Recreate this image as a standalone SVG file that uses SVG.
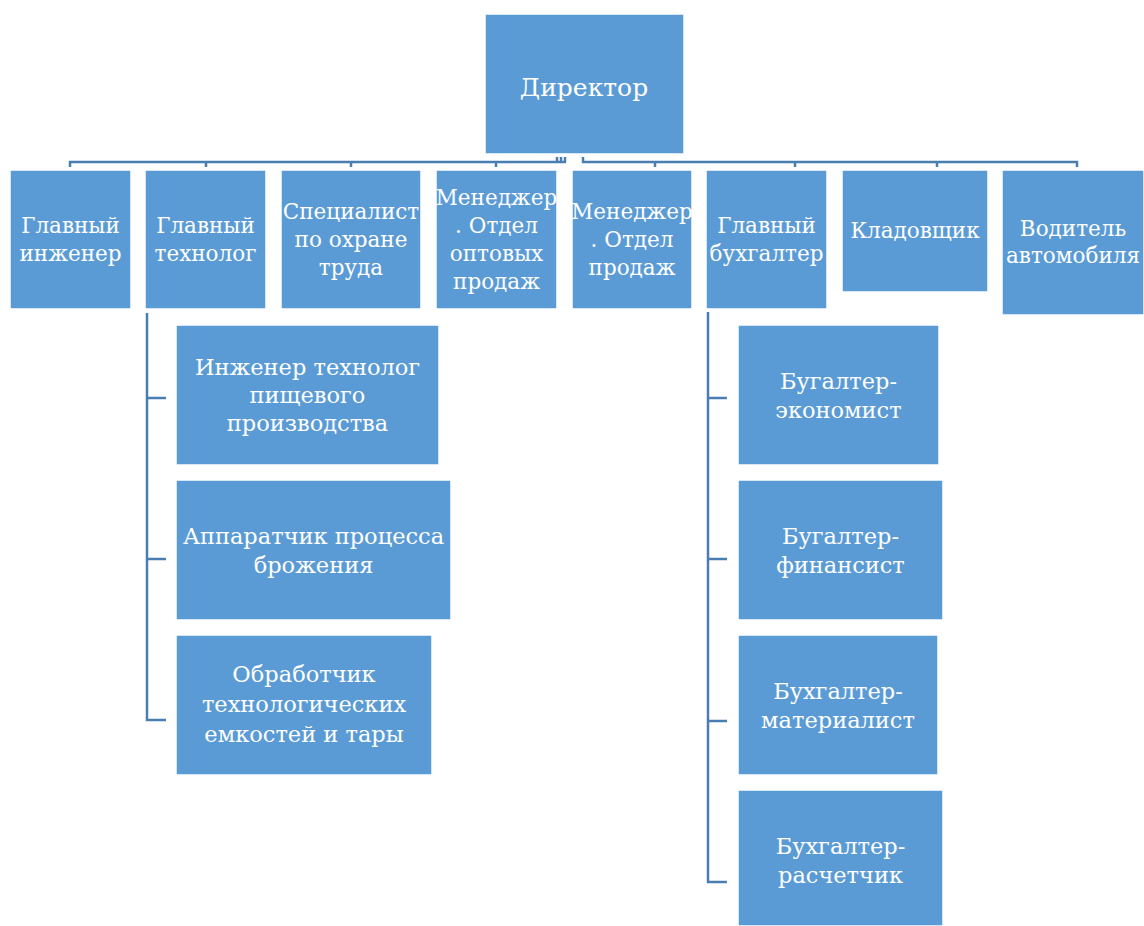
<svg xmlns="http://www.w3.org/2000/svg" width="1144" height="926" viewBox="0 0 1144 926">
<style>
.b{fill:#5B9BD5;stroke:#ffffff;stroke-width:1.5}
text{font-family:'DejaVu Serif','Liberation Serif',serif;fill:#ffffff;text-anchor:middle}
.s{font-size:21.5px}
.m{font-size:22.5px}
.c{fill:none;stroke:#4A7EB0;stroke-width:2.5}
</style>
<rect width="1144" height="926" fill="#ffffff"/>
<g id="connectors">
<path class="c" d="M70,167 V162 H566 M557,162 V157 M561,162 V157 M565,162 V157 M206,162 V167 M351,162 V167 M496,162 V167"/>
<path class="c" d="M583,157 V162 H1077 V167 M655,162 V167 M795,162 V167 M937,162 V167"/>
<path class="c" d="M166,398 H147 V313 M147,398 V720 H166 M147,559 H166"/>
<path class="c" d="M727,398 H708 V312 M708,398 V882 H727 M708,559 H727 M708,721 H727"/>
</g>
<g id="director"><rect class="b" x="485" y="14" width="199" height="140"/><text x="584" y="96" font-size="25">Директор</text></g>
<g id="n1"><rect class="b" x="10" y="170" width="121" height="139"/><text class="s" x="70.5" y="233">Главный<tspan x="70.5" dy="28">инженер</tspan></text></g>
<g id="n2"><rect class="b" x="145" y="170" width="121" height="139"/><text class="s" x="205.5" y="233">Главный<tspan x="205.5" dy="28">технолог</tspan></text></g>
<g id="n3"><rect class="b" x="281" y="170" width="140" height="139"/><text class="s" x="351" y="219">Специалист<tspan x="351" dy="28">по охране</tspan><tspan x="351" dy="28">труда</tspan></text></g>
<g id="n4"><rect class="b" x="436" y="170" width="121" height="139"/><text class="s" x="496.5" y="205">Менеджер<tspan x="496.5" dy="28">. Отдел</tspan><tspan x="496.5" dy="28">оптовых</tspan><tspan x="496.5" dy="28">продаж</tspan></text></g>
<g id="n5"><rect class="b" x="572" y="170" width="120" height="139"/><text class="s" x="632" y="219">Менеджер<tspan x="632" dy="28">. Отдел</tspan><tspan x="632" dy="28">продаж</tspan></text></g>
<g id="n6"><rect class="b" x="706" y="170" width="121" height="139"/><text class="s" x="766.5" y="233">Главный<tspan x="766.5" dy="28">бухгалтер</tspan></text></g>
<g id="n7"><rect class="b" x="842" y="170" width="146" height="122"/><text class="s" x="915" y="238">Кладовщик</text></g>
<g id="n8"><rect class="b" x="1002" y="170" width="142" height="145"/><text class="s" x="1073" y="236">Водитель<tspan x="1073" dy="27">автомобиля</tspan></text></g>
<g id="l1"><rect class="b" x="176" y="325" width="263" height="140"/><text class="m" x="307.5" y="375">Инженер технолог<tspan x="307.5" dy="28">пищевого</tspan><tspan x="307.5" dy="28">производства</tspan></text></g>
<g id="l2"><rect class="b" x="176" y="480" width="275" height="140"/><text class="m" x="313.5" y="544">Аппаратчик процесса<tspan x="313.5" dy="29">брожения</tspan></text></g>
<g id="l3"><rect class="b" x="176" y="635" width="256" height="140"/><text class="m" x="304" y="682">Обработчик<tspan x="304" dy="30">технологических</tspan><tspan x="304" dy="30">емкостей и тары</tspan></text></g>
<g id="r1"><rect class="b" x="738" y="325" width="201" height="140"/><text class="m" x="838.5" y="389">Бугалтер-<tspan x="838.5" dy="29">экономист</tspan></text></g>
<g id="r2"><rect class="b" x="738" y="480" width="205" height="140"/><text class="m" x="840.5" y="544">Бугалтер-<tspan x="840.5" dy="29">финансист</tspan></text></g>
<g id="r3"><rect class="b" x="738" y="635" width="200" height="140"/><text class="m" x="838" y="699">Бухгалтер-<tspan x="838" dy="29">материалист</tspan></text></g>
<g id="r4"><rect class="b" x="738" y="790" width="205" height="136"/><text class="m" x="840.5" y="854">Бухгалтер-<tspan x="840.5" dy="29">расчетчик</tspan></text></g>
</svg>
